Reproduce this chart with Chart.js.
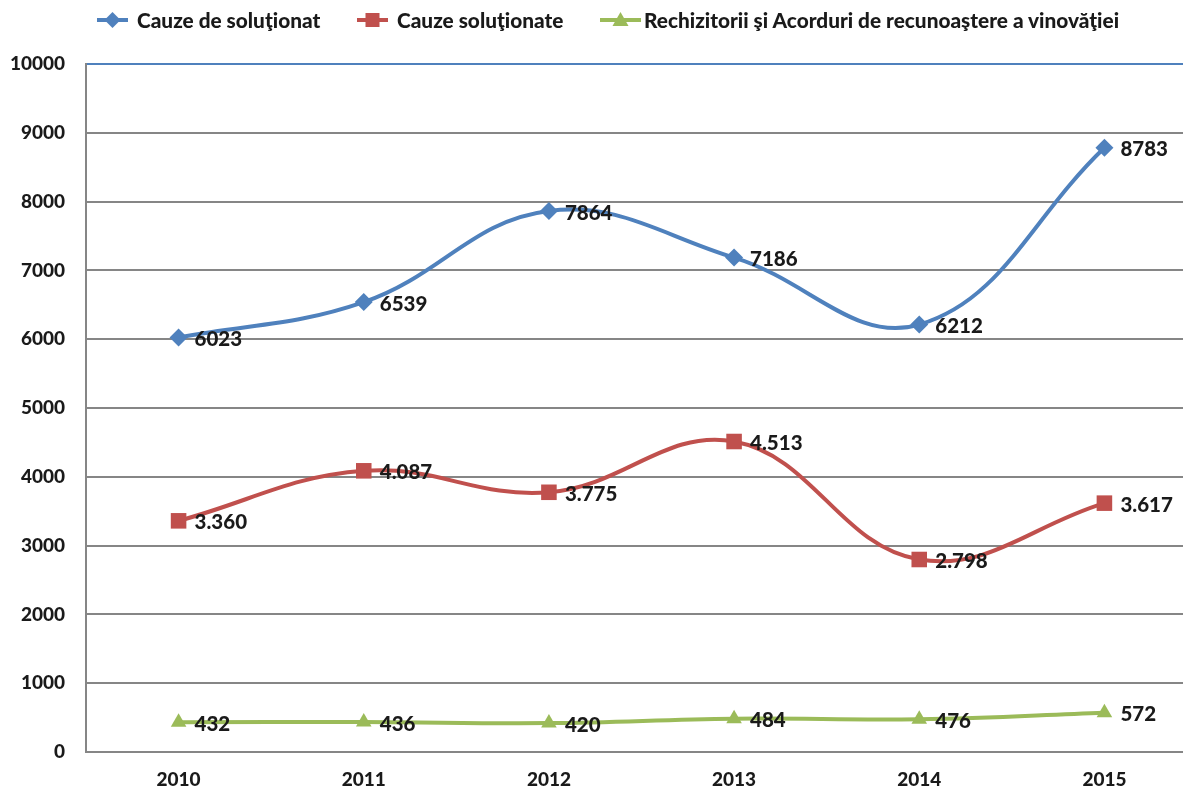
<!DOCTYPE html>
<html>
<head>
<meta charset="utf-8">
<script src="https://cdn.jsdelivr.net/npm/chart.js@4.4.0/dist/chart.umd.min.js"></script>
<style>
  html, body { margin: 0; padding: 0; background: #fff; overflow: hidden; }
  #wrap { position: relative; width: 1208px; height: 789px; }
  #legend { position: absolute; left: 0; top: 0; width: 1183px; height: 40px; font-family: Lato, "Noto Sans", sans-serif; font-weight: 900; font-size: 20.8px; color: #1a1a1a; }
  .item { position: absolute; top: 8px; height: 24px; line-height: 24px; white-space: nowrap; }
  .item svg { position: absolute; top: 0; }
  .item span { position: absolute; top: 0; }
</style>
</head>
<body>
<div id="wrap">
  <canvas id="chart" width="1208" height="789"></canvas>
  <div id="legend"></div>
</div>
<script>
const years = ["2010", "2011", "2012", "2013", "2014", "2015"];
const deSolutionat = [6023, 6539, 7864, 7186, 6212, 8783];
const solutionate = [3360, 4087, 3775, 4513, 2798, 3617];
const rechizitorii = [432, 436, 420, 484, 476, 572];
const yTicks = [0, 1000, 2000, 3000, 4000, 5000, 6000, 7000, 8000, 9000, 10000];

const seriesNames = [
  "Cauze de soluţionat",
  "Cauze soluţionate",
  "Rechizitorii şi Acorduri de recunoaştere a vinovăţiei"
];
const blue = "#4F81BD", red = "#C0504D", green = "#9BBB59";
const fontFamily = "Lato, 'Noto Sans', sans-serif";
const labelFont = "900 20.5px " + fontFamily;

// "3360" -> "3.360" for the red series, plain for the others
function fmt(v, dots) {
  if (!dots) return String(v);
  return String(v).replace(/\B(?=(\d{3})+(?!\d))/g, ".");
}

/* ====== legend (html) ====== */
const legendItems = [
  { name: seriesNames[0], color: blue, shape: "diamond", x: 97, lineW: 31, textX: 137 },
  { name: seriesNames[1], color: red, shape: "square", x: 357, lineW: 31, textX: 397 },
  { name: seriesNames[2], color: green, shape: "triangle", x: 600, lineW: 41, textX: 644 }
];
const legend = document.getElementById("legend");
legendItems.forEach(it => {
  const div = document.createElement("div");
  div.className = "item";
  div.style.left = it.x + "px";
  const c = it.lineW / 2;
  let mark = "";
  if (it.shape === "diamond") mark = `<polygon points="${c},4 ${c + 8},12 ${c},20 ${c - 8},12" fill="${it.color}"/>`;
  if (it.shape === "square") mark = `<rect x="${c - 7}" y="5" width="14" height="14" fill="${it.color}"/>`;
  if (it.shape === "triangle") mark = `<polygon points="${c},4 ${c + 8},18 ${c - 8},18" fill="${it.color}"/>`;
  div.innerHTML = `<svg width="${it.lineW}" height="24"><line x1="0" y1="12" x2="${it.lineW}" y2="12" stroke="${it.color}" stroke-width="4"/>${mark}</svg>` +
    `<span style="left:${it.textX - it.x}px">${it.name}</span>`;
  legend.appendChild(div);
});

/* ====== data labels ====== */
const valueLabels = {
  id: "valueLabels",
  afterDatasetsDraw(chart) {
    const ctx = chart.ctx;
    ctx.save();
    ctx.font = labelFont;
    ctx.fillStyle = "#1a1a1a";
    ctx.textAlign = "left";
    ctx.textBaseline = "middle";
    chart.data.datasets.forEach((ds, i) => {
      chart.getDatasetMeta(i).data.forEach((pt, j) => {
        ctx.fillText(fmt(ds.data[j], i === 1), pt.x + 16, pt.y + 2);
      });
    });
    ctx.restore();
  }
};

function line(label, data, color, style, radius) {
  return {
    label: label,
    data: data,
    borderColor: color,
    backgroundColor: color,
    borderWidth: 4,
    tension: 0.4,
    pointStyle: style,
    pointRadius: radius,
    pointHoverRadius: radius,
    pointBorderWidth: 0
  };
}

new Chart(document.getElementById("chart").getContext("2d"), {
  type: "line",
  data: {
    labels: years,
    datasets: [
      line(seriesNames[0], deSolutionat, blue, "rectRot", 9),
      line(seriesNames[1], solutionate, red, "rect", 11),
      line(seriesNames[2], rechizitorii, green, "triangle", 9)
    ]
  },
  options: {
    responsive: false,
    animation: false,
    layout: { padding: { top: 64, right: 2, left: 0, bottom: 0 } },
    plugins: {
      legend: { display: false },
      tooltip: { enabled: false }
    },
    scales: {
      x: {
        offset: true,
        grid: { display: false, drawTicks: false },
        border: { color: "#868686", width: 2 },
        ticks: {
          padding: 16,
          color: "#1a1a1a",
          font: { family: fontFamily, weight: "900", size: 19 }
        },
        afterFit(scale) { scale.height = 37; }
      },
      y: {
        min: 0,
        max: 10000,
        afterBuildTicks(scale) { scale.ticks = yTicks.map(v => ({ value: v })); },
        grid: {
          drawTicks: false,
          lineWidth: 2,
          color: ctx => (ctx.tick && ctx.tick.value === 10000 ? blue : "#868686")
        },
        border: { color: "#868686", width: 2 },
        ticks: {
          padding: 21,
          color: "#1a1a1a",
          font: { family: fontFamily, weight: "900", size: 19 },
          callback: v => String(v)
        },
        afterFit(scale) { scale.width = 86; }
      }
    }
  },
  plugins: [valueLabels]
});
</script>
</body>
</html>
